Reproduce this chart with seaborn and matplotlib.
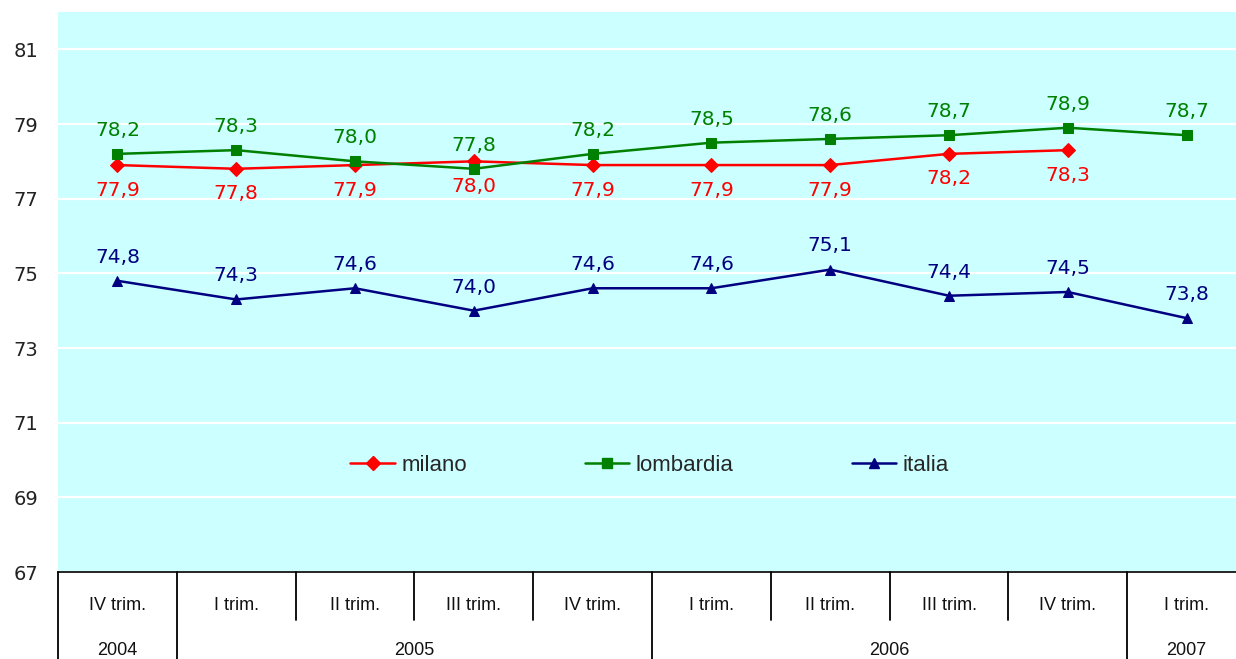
import numpy as np
import pandas as pd
import matplotlib.pyplot as plt
import matplotlib.transforms as mtransforms
from matplotlib.lines import Line2D
import seaborn as sns

# data
quarters = ["IV trim.", "I trim.", "II trim.", "III trim.", "IV trim.",
            "I trim.", "II trim.", "III trim.", "IV trim.", "I trim."]
years = ["2004", "2005", "2006", "2007"]
year_spans = [(0, 0), (1, 4), (5, 8), (9, 9)]
milano = [77.9, 77.8, 77.9, 78.0, 77.9, 77.9, 77.9, 78.2, 78.3, np.nan]
lombardia = [78.2, 78.3, 78.0, 77.8, 78.2, 78.5, 78.6, 78.7, 78.9, 78.7]
italia = [74.8, 74.3, 74.6, 74.0, 74.6, 74.6, 75.1, 74.4, 74.5, 73.8]
y_ticks = [67, 69, 71, 73, 75, 77, 79, 81]

series = {"milano": milano, "lombardia": lombardia, "italia": italia}
colors = {"milano": "#FF0000", "lombardia": "#008000", "italia": "#000080"}
markers = {"milano": "D", "lombardia": "s", "italia": "^"}
label_offset = {"milano": -18, "lombardia": 17, "italia": 17}

rows = []
for name, vals in series.items():
    for i, v in enumerate(vals):
        rows.append({"pos": i, "value": v, "serie": name})
df = pd.DataFrame(rows).dropna()

sns.set_style("white")
plt.rcParams["font.family"] = ["DejaVu Sans"]

fig = plt.figure(figsize=(12.36, 6.59), dpi=100)
ax = fig.add_axes([58 / 1236, 87 / 659, 1188 / 1236, 560 / 659])
ax.set_facecolor("#CCFFFF")

sns.lineplot(data=df, x="pos", y="value", hue="serie", style="serie",
             palette=colors, markers=markers, dashes=False, markersize=7.5,
             linewidth=1.8, ax=ax, legend=False)
for line, name in zip(ax.lines, series):
    line.set_markeredgecolor(colors[name])

for name, vals in series.items():
    for i, v in enumerate(vals):
        if np.isnan(v):
            continue
        ax.annotate(f"{v:.1f}".replace(".", ","), (i, v),
                    xytext=(0, label_offset[name]), textcoords="offset points",
                    ha="center", va="center", fontsize=14.5, color=colors[name])

ax.set_xlim(-0.5, len(quarters) - 0.5)
ax.set_ylim(67, 82)
ax.set_yticks(y_ticks)
ax.set_yticklabels([str(t) for t in y_ticks], fontsize=14, color="#222222")
ax.tick_params(axis="y", length=0, pad=14)
ax.set_xticks([])
ax.set_xlabel("")
ax.set_ylabel("")
for t in y_ticks:
    ax.axhline(t, color="white", lw=1.6, zorder=0)
for s in ["left", "right", "top"]:
    ax.spines[s].set_visible(False)
ax.spines["bottom"].set_color("black")
ax.spines["bottom"].set_linewidth(1.2)

# legend
handles = [Line2D([], [], color=colors[n], marker=markers[n], markersize=7.5,
                  lw=1.8) for n in series]
ax.legend(handles, list(series), ncol=3, loc="center",
          bbox_to_anchor=(0.498, 0.191), frameon=False, columnspacing=5.3,
          handlelength=2.0, handletextpad=0.3,
          prop={"family": ["Liberation Sans Narrow", "Liberation Sans"], "size": 16})

# table-like axis below the plot
trans = mtransforms.blended_transform_factory(ax.transData, ax.transAxes)
narrow = ["Liberation Sans Narrow", "Liberation Sans"]
for i, q in enumerate(quarters):
    ax.text(i, -0.059, q, transform=trans, ha="center", va="center",
            fontsize=13, family=narrow, color="#111111")
group_edges = set()
for (a, b), yr in zip(year_spans, years):
    ax.text((a + b) / 2, -0.141, yr, transform=trans, ha="center",
            va="center", fontsize=13, family=narrow, color="#111111")
    group_edges.add(a - 0.5)
    group_edges.add(b + 0.5)
for k in range(len(quarters) + 1):
    x = k - 0.5
    low = -0.2 if x in group_edges else -0.085
    ax.plot([x, x], [0, low], transform=trans, color="black", lw=1.3,
            clip_on=False)

fig.savefig("out.png", dpi=100)
